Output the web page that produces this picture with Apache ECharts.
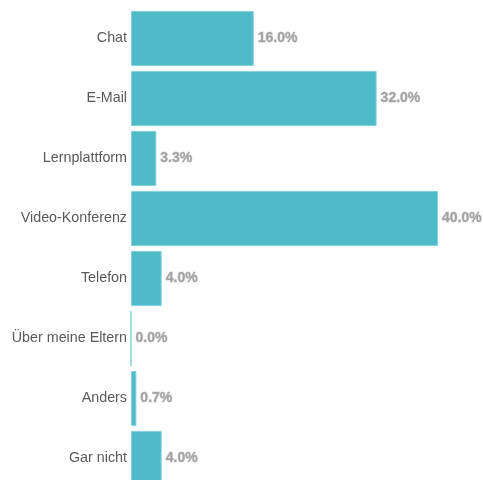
<!DOCTYPE html>
<html><head><meta charset="utf-8">
<script src="https://cdn.jsdelivr.net/npm/echarts@6/dist/echarts.min.js"></script>
<style>html,body{margin:0;padding:0;background:#fff}#c{width:483px;height:480px}</style>
</head><body><div id="c"></div>
<script>
const categories = ['Chat','E-Mail','Lernplattform','Video-Konferenz','Telefon','Über meine Eltern','Anders','Gar nicht'];
const values = [16.0, 32.0, 3.3, 40.0, 4.0, 0.0, 0.7, 4.0];
const chart = echarts.init(document.getElementById('c'));
chart.setOption({
  animation: false,
  grid: {left: 131, right: 45, top: 8.5, height: 480, outerBoundsMode: 'none', containLabel: false},
  xAxis: {type: 'value', min: 0, max: 40, show: false},
  yAxis: {type: 'category', data: categories, inverse: true,
    axisLine: {show: false}, axisTick: {show: false},
    axisLabel: {color: '#5a5a5a', fontSize: 14.3, margin: 4, fontFamily: 'Liberation Sans, Arial, sans-serif'}},
  series: [{type: 'bar', data: values, barCategoryGap: '8%',
    itemStyle: {color: '#4fbbc9', borderColor: '#86d1db', borderWidth: 1},
    label: {show: true, position: 'right', distance: 4, formatter: p => p.value.toFixed(1) + '%',
      color: '#a3a3a3', fontWeight: 'bold', fontSize: 14, fontFamily: 'Liberation Sans, Arial, sans-serif',
      textBorderColor: 'rgba(120,120,120,0.3)', textBorderWidth: 1}
  }]
});
</script></body></html>
